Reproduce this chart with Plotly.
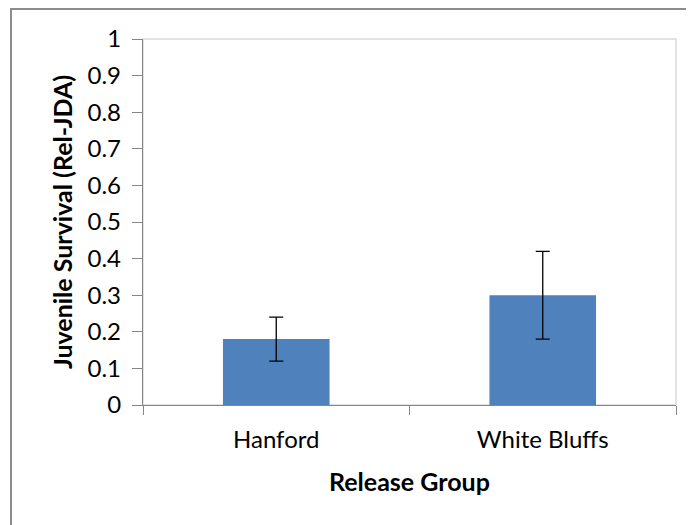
import plotly.graph_objects as go

groups = ["Hanford", "White Bluffs"]
survival = [0.18, 0.30]
err = [0.06, 0.12]
y_ticks = [0, 0.1, 0.2, 0.3, 0.4, 0.5, 0.6, 0.7, 0.8, 0.9, 1]
y_tick_text = ["0", "0.1", "0.2", "0.3", "0.4", "0.5", "0.6", "0.7", "0.8", "0.9", "1"]

FONT = "Lato"
AX = "#868686"

fig = go.Figure(go.Bar(
    x=groups, y=survival, width=0.4,
    marker=dict(color="#4f81bd", line=dict(width=0)),
    error_y=dict(type="data", array=err, visible=True, color="#000000",
                 thickness=1.3, width=7),
))

# page body has an 8px margin, so the figure is drawn 8px smaller and offset
fig.update_layout(
    width=686, height=517,
    margin=dict(l=135, r=18, t=31, b=120),
    paper_bgcolor="white", plot_bgcolor="white",
    showlegend=False,
    font=dict(family=FONT, size=24, color="#000000"),
    xaxis=dict(showgrid=False, zeroline=False, showline=True, linecolor=AX, linewidth=1.3,
               ticks="outside", tickson="boundaries", ticklen=9, tickcolor=AX, tickwidth=1.3,
               ticklabelstandoff=13, tickfont=dict(family=FONT, size=24)),
    yaxis=dict(range=[0, 1], showgrid=False, zeroline=False, showline=True, linecolor=AX, linewidth=1.3,
               ticks="outside", ticklen=10, tickcolor=AX, tickwidth=1.3,
               tickvals=y_ticks, ticktext=y_tick_text, ticklabelstandoff=6,
               tickfont=dict(family=FONT, size=24)),
    shapes=[
        dict(type="rect", xref="paper", yref="paper", x0=0, x1=1, y0=0, y1=1,
             line=dict(color="#d9d9d9", width=1.5), layer="below"),
        dict(type="rect", xref="paper", yref="paper", x0=(3-135)/533, x1=1.1,
             y0=-0.5, y1=(397-1)/366, line=dict(color="#8c8c8c", width=2), layer="above"),
    ],
    annotations=[
        dict(text="<b>Juvenile Survival (Rel-JDA)</b>", xref="paper", yref="paper",
             x=0, y=0.5, xanchor="center", yanchor="middle", xshift=-81, textangle=-90,
             showarrow=False, font=dict(family=FONT, size=25)),
        dict(text="<b>Release Group</b>", xref="paper", yref="paper",
             x=0.5, y=0, xanchor="center", yanchor="middle", yshift=-76,
             showarrow=False, font=dict(family=FONT, size=25)),
    ],
)

fig.write_html("out.html")
